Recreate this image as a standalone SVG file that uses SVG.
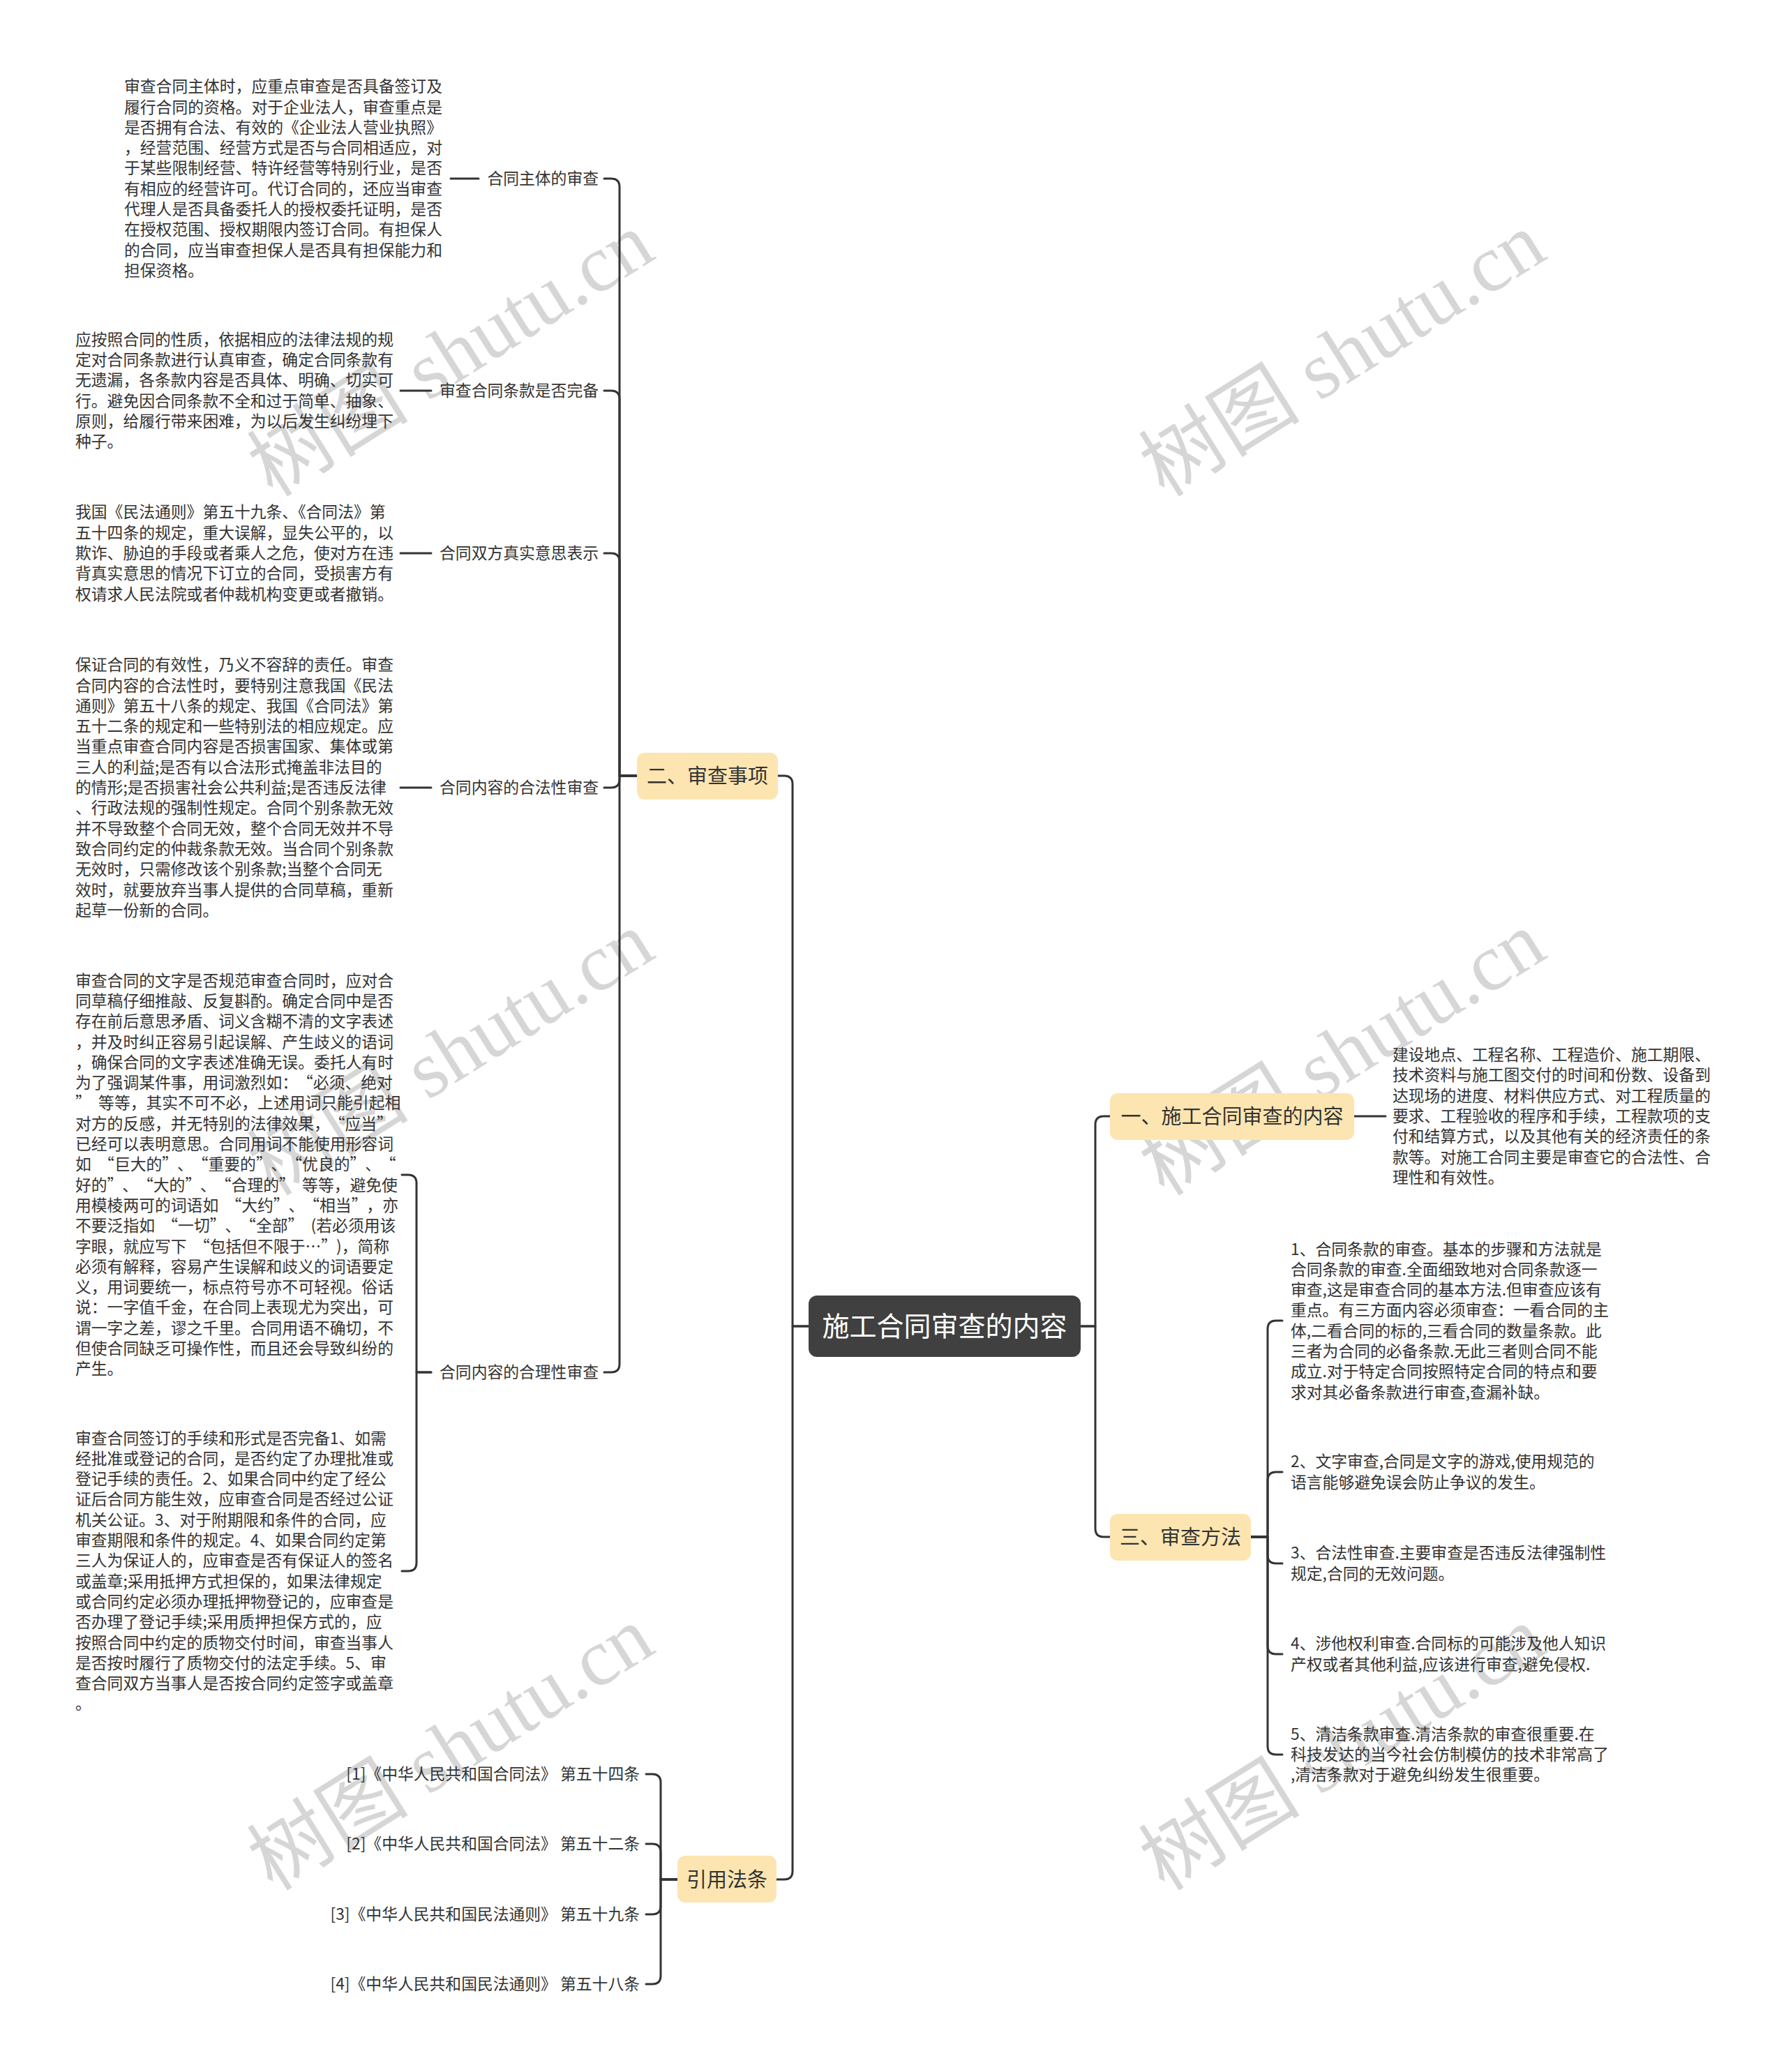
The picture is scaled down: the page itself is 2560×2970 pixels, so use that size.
<svg xmlns="http://www.w3.org/2000/svg" width="2560" height="2970" viewBox="0 0 2560 2970">
<style>
.bg{fill:#ffffff}
.wm{font-family:"Liberation Serif","Noto Sans CJK SC",serif;font-size:116px;fill:#000000;fill-opacity:0.16}
.t{font-family:"Noto Sans CJK SC","Noto Sans",sans-serif;font-size:22.8px;fill:#333333}
.q{letter-spacing:10.3px}
.lbl{font-family:"Noto Sans CJK SC","Noto Sans",sans-serif;font-size:22.8px;fill:#333333}
.sub{fill:#fce5b1}
.subt{font-family:"Noto Sans CJK SC","Noto Sans",sans-serif;font-size:29px;fill:#333333;text-anchor:middle}
.root{fill:#404040}
.roott{font-family:"Noto Sans CJK SC","Noto Sans",sans-serif;font-size:39px;fill:#ffffff;text-anchor:middle}
.c{fill:none;stroke:#333333;stroke-width:3;stroke-linecap:round;stroke-linejoin:round}
</style>
<rect class="bg" x="0" y="0" width="2560" height="2970"/>
<g id="watermarks">
<text class="wm" x="648" y="547" text-anchor="middle" transform="rotate(-32 648 511)">树图 shutu.cn</text>
<text class="wm" x="1926" y="547" text-anchor="middle" transform="rotate(-32 1926 511)">树图 shutu.cn</text>
<text class="wm" x="648" y="1549" text-anchor="middle" transform="rotate(-32 648 1513)">树图 shutu.cn</text>
<text class="wm" x="1926" y="1549" text-anchor="middle" transform="rotate(-32 1926 1513)">树图 shutu.cn</text>
<text class="wm" x="648" y="2545" text-anchor="middle" transform="rotate(-32 648 2509)">树图 shutu.cn</text>
<text class="wm" x="1926" y="2545" text-anchor="middle" transform="rotate(-32 1926 2509)">树图 shutu.cn</text>
</g>
<g id="connectors">
<path class="c" d="M1159 1901 H1136 V1124 Q1136 1112 1124 1112 H1115"/>
<path class="c" d="M1159 1901 H1136 V2682 Q1136 2694 1124 2694 H1113"/>
<path class="c" d="M1549 1901 H1570 V1612 Q1570 1600 1582 1600 H1591"/>
<path class="c" d="M1549 1901 H1570 V2191 Q1570 2203 1582 2203 H1591"/>
<path class="c" d="M913 1112 H888 V268 Q888 256 876 256 H866"/>
<path class="c" d="M913 1112 H888 V572 Q888 560 876 560 H866"/>
<path class="c" d="M913 1112 H888 V805 Q888 793 876 793 H866"/>
<path class="c" d="M913 1112 H888 V1117 Q888 1129 876 1129 H866"/>
<path class="c" d="M913 1112 H888 V1955 Q888 1967 876 1967 H866"/>
<path class="c" d="M686 256 H646"/>
<path class="c" d="M618 560 H574"/>
<path class="c" d="M618 793 H574"/>
<path class="c" d="M618 1129 H574"/>
<path class="c" d="M618 1967 H597 V1696 Q597 1684 585 1684 H576"/>
<path class="c" d="M618 1967 H597 V2240 Q597 2252 585 2252 H576"/>
<path class="c" d="M971 2694 H947 V2555 Q947 2543 935 2543 H926"/>
<path class="c" d="M971 2694 H947 V2655 Q947 2643 935 2643 H926"/>
<path class="c" d="M971 2694 H947 V2732 Q947 2744 935 2744 H926"/>
<path class="c" d="M971 2694 H947 V2832 Q947 2844 935 2844 H926"/>
<path class="c" d="M1941 1600 H1986"/>
<path class="c" d="M1793 2203 H1817 V1905 Q1817 1893 1829 1893 H1838"/>
<path class="c" d="M1793 2203 H1817 V2122 Q1817 2110 1829 2110 H1838"/>
<path class="c" d="M1793 2203 H1817 V2229 Q1817 2241 1829 2241 H1838"/>
<path class="c" d="M1793 2203 H1817 V2359 Q1817 2371 1829 2371 H1838"/>
<path class="c" d="M1793 2203 H1817 V2503 Q1817 2515 1829 2515 H1838"/>
</g>
<g id="root">
<rect class="root" x="1159" y="1857" width="390" height="88" rx="12"/>
<text class="roott" x="1354" y="1915">施工合同审查的内容</text>
</g>
<g id="branch2">
<rect class="sub" x="913" y="1079" width="202" height="67" rx="11"/>
<text class="subt" x="1014" y="1122.5">二、审查事项</text>
</g>
<g id="branch1">
<rect class="sub" x="1591" y="1567" width="350" height="67" rx="11"/>
<text class="subt" x="1766" y="1610.5">一、施工合同审查的内容</text>
</g>
<g id="branch3">
<rect class="sub" x="1591" y="2170" width="202" height="67" rx="11"/>
<text class="subt" x="1692" y="2213.5">三、审查方法</text>
</g>
<g id="branch4">
<rect class="sub" x="971" y="2660" width="142" height="67" rx="11"/>
<text class="subt" x="1042" y="2704.5">引用法条</text>
</g>
<g id="label-zhuti"><text class="lbl" x="858" y="264" text-anchor="end">合同主体的审查</text></g>
<g id="label-tiaokuan"><text class="lbl" x="858" y="568" text-anchor="end">审查合同条款是否完备</text></g>
<g id="label-yisi"><text class="lbl" x="858" y="801" text-anchor="end">合同双方真实意思表示</text></g>
<g id="label-hefa"><text class="lbl" x="858" y="1137" text-anchor="end">合同内容的合法性审查</text></g>
<g id="label-heli"><text class="lbl" x="858" y="1975" text-anchor="end">合同内容的合理性审查</text></g>
<g id="body-zhuti">
<text class="t" x="178" y="132.2"><tspan x="178" dy="0">审查合同主体时，应重点审查是否具备签订及</tspan><tspan x="178" dy="29.3">履行合同的资格。对于企业法人，审查重点是</tspan><tspan x="178" dy="29.3">是否拥有合法、有效的《企业法人营业执照》</tspan><tspan x="178" dy="29.3">，经营范围、经营方式是否与合同相适应，对</tspan><tspan x="178" dy="29.3">于某些限制经营、特许经营等特别行业，是否</tspan><tspan x="178" dy="29.3">有相应的经营许可。代订合同的，还应当审查</tspan><tspan x="178" dy="29.3">代理人是否具备委托人的授权委托证明，是否</tspan><tspan x="178" dy="29.3">在授权范围、授权期限内签订合同。有担保人</tspan><tspan x="178" dy="29.3">的合同，应当审查担保人是否具有担保能力和</tspan><tspan x="178" dy="29.3">担保资格。</tspan></text>
</g>
<g id="body-tiaokuan">
<text class="t" x="108" y="494.8"><tspan x="108" dy="0">应按照合同的性质，依据相应的法律法规的规</tspan><tspan x="108" dy="29.3">定对合同条款进行认真审查，确定合同条款有</tspan><tspan x="108" dy="29.3">无遗漏，各条款内容是否具体、明确、切实可</tspan><tspan x="108" dy="29.3">行。避免因合同条款不全和过于简单、抽象、</tspan><tspan x="108" dy="29.3">原则，给履行带来困难，为以后发生纠纷埋下</tspan><tspan x="108" dy="29.3">种子。</tspan></text>
</g>
<g id="body-yisi">
<text class="t" x="108" y="742.4"><tspan x="108" dy="0">我国《民法通则》第五十九条、《合同法》第</tspan><tspan x="108" dy="29.3">五十四条的规定，重大误解，显失公平的，以</tspan><tspan x="108" dy="29.3">欺诈、胁迫的手段或者乘人之危，使对方在违</tspan><tspan x="108" dy="29.3">背真实意思的情况下订立的合同，受损害方有</tspan><tspan x="108" dy="29.3">权请求人民法院或者仲裁机构变更或者撤销。</tspan></text>
</g>
<g id="body-hefa">
<text class="t" x="108" y="961.2"><tspan x="108" dy="0">保证合同的有效性，乃义不容辞的责任。审查</tspan><tspan x="108" dy="29.3">合同内容的合法性时，要特别注意我国《民法</tspan><tspan x="108" dy="29.3">通则》第五十八条的规定、我国《合同法》第</tspan><tspan x="108" dy="29.3">五十二条的规定和一些特别法的相应规定。应</tspan><tspan x="108" dy="29.3">当重点审查合同内容是否损害国家、集体或第</tspan><tspan x="108" dy="29.3">三人的利益;是否有以合法形式掩盖非法目的</tspan><tspan x="108" dy="29.3">的情形;是否损害社会公共利益;是否违反法律</tspan><tspan x="108" dy="29.3">、行政法规的强制性规定。合同个别条款无效</tspan><tspan x="108" dy="29.3">并不导致整个合同无效，整个合同无效并不导</tspan><tspan x="108" dy="29.3">致合同约定的仲裁条款无效。当合同个别条款</tspan><tspan x="108" dy="29.3">无效时，只需修改该个别条款;当整个合同无</tspan><tspan x="108" dy="29.3">效时，就要放弃当事人提供的合同草稿，重新</tspan><tspan x="108" dy="29.3">起草一份新的合同。</tspan></text>
</g>
<g id="body-heli-1">
<text class="t" x="108" y="1413.6"><tspan x="108" dy="0">审查合同的文字是否规范审查合同时，应对合</tspan><tspan x="108" dy="29.3">同草稿仔细推敲、反复斟酌。确定合同中是否</tspan><tspan x="108" dy="29.3">存在前后意思矛盾、词义含糊不清的文字表述</tspan><tspan x="108" dy="29.3">，并及时纠正容易引起误解、产生歧义的语词</tspan><tspan x="108" dy="29.3">，确保合同的文字表述准确无误。委托人有时</tspan><tspan x="108" dy="29.3">为了强调某件事，用词激烈如：<tspan dx="10.3">“</tspan>必须、绝对</tspan><tspan x="108" dy="29.3"><tspan class="q">”</tspan>等等，其实不可不必，上述用词只能引起相</tspan><tspan x="108" dy="29.3">对方的反感，并无特别的法律效果，<tspan dx="10.3">“</tspan>应当<tspan class="q">”</tspan></tspan><tspan x="108" dy="29.3">已经可以表明意思。合同用词不能使用形容词</tspan><tspan x="108" dy="29.3">如<tspan dx="10.3">“</tspan>巨大的<tspan class="q">”</tspan>、<tspan dx="10.3">“</tspan>重要的<tspan class="q">”</tspan>、<tspan dx="10.3">“</tspan>优良的<tspan class="q">”</tspan>、<tspan dx="10.3">“</tspan></tspan><tspan x="108" dy="29.3">好的<tspan class="q">”</tspan>、<tspan dx="10.3">“</tspan>大的<tspan class="q">”</tspan>、<tspan dx="10.3">“</tspan>合理的<tspan class="q">”</tspan>等等，避免使</tspan><tspan x="108" dy="29.3">用模棱两可的词语如<tspan dx="10.3">“</tspan>大约<tspan class="q">”</tspan>、<tspan dx="10.3">“</tspan>相当<tspan class="q">”</tspan>，亦</tspan><tspan x="108" dy="29.3">不要泛指如<tspan dx="10.3">“</tspan>一切<tspan class="q">”</tspan>、<tspan dx="10.3">“</tspan>全部<tspan class="q">”</tspan>(若必须用该</tspan><tspan x="108" dy="29.3">字眼，就应写下<tspan dx="10.3">“</tspan>包括但不限于…<tspan class="q">”</tspan>)，简称</tspan><tspan x="108" dy="29.3">必须有解释，容易产生误解和歧义的词语要定</tspan><tspan x="108" dy="29.3">义，用词要统一，标点符号亦不可轻视。俗话</tspan><tspan x="108" dy="29.3">说：一字值千金，在合同上表现尤为突出，可</tspan><tspan x="108" dy="29.3">谓一字之差，谬之千里。合同用语不确切，不</tspan><tspan x="108" dy="29.3">但使合同缺乏可操作性，而且还会导致纠纷的</tspan><tspan x="108" dy="29.3">产生。</tspan></text>
</g>
<g id="body-heli-2">
<text class="t" x="108" y="2069.5"><tspan x="108" dy="0">审查合同签订的手续和形式是否完备1、如需</tspan><tspan x="108" dy="29.3">经批准或登记的合同，是否约定了办理批准或</tspan><tspan x="108" dy="29.3">登记手续的责任。2、如果合同中约定了经公</tspan><tspan x="108" dy="29.3">证后合同方能生效，应审查合同是否经过公证</tspan><tspan x="108" dy="29.3">机关公证。3、对于附期限和条件的合同，应</tspan><tspan x="108" dy="29.3">审查期限和条件的规定。4、如果合同约定第</tspan><tspan x="108" dy="29.3">三人为保证人的，应审查是否有保证人的签名</tspan><tspan x="108" dy="29.3">或盖章;采用抵押方式担保的，如果法律规定</tspan><tspan x="108" dy="29.3">或合同约定必须办理抵押物登记的，应审查是</tspan><tspan x="108" dy="29.3">否办理了登记手续;采用质押担保方式的，应</tspan><tspan x="108" dy="29.3">按照合同中约定的质物交付时间，审查当事人</tspan><tspan x="108" dy="29.3">是否按时履行了质物交付的法定手续。5、审</tspan><tspan x="108" dy="29.3">查合同双方当事人是否按合同约定签字或盖章</tspan><tspan x="108" dy="29.3">。</tspan></text>
</g>
<g id="law-1"><text class="lbl" x="917" y="2551" text-anchor="end">[1]《中华人民共和国合同法》 第五十四条</text></g>
<g id="law-2"><text class="lbl" x="917" y="2651" text-anchor="end">[2]《中华人民共和国合同法》 第五十二条</text></g>
<g id="law-3"><text class="lbl" x="917" y="2752" text-anchor="end">[3]《中华人民共和国民法通则》 第五十九条</text></g>
<g id="law-4"><text class="lbl" x="917" y="2852" text-anchor="end">[4]《中华人民共和国民法通则》 第五十八条</text></g>
<g id="body-neirong">
<text class="t" x="1996" y="1520.1"><tspan x="1996" dy="0">建设地点、工程名称、工程造价、施工期限、</tspan><tspan x="1996" dy="29.3">技术资料与施工图交付的时间和份数、设备到</tspan><tspan x="1996" dy="29.3">达现场的进度、材料供应方式、对工程质量的</tspan><tspan x="1996" dy="29.3">要求、工程验收的程序和手续，工程款项的支</tspan><tspan x="1996" dy="29.3">付和结算方式，以及其他有关的经济责任的条</tspan><tspan x="1996" dy="29.3">款等。对施工合同主要是审查它的合法性、合</tspan><tspan x="1996" dy="29.3">理性和有效性。</tspan></text>
</g>
<g id="method-1">
<text class="t" x="1850" y="1798.5"><tspan x="1850" dy="0">1、合同条款的审查。基本的步骤和方法就是</tspan><tspan x="1850" dy="29.3">合同条款的审查.全面细致地对合同条款逐一</tspan><tspan x="1850" dy="29.3">审查,这是审查合同的基本方法.但审查应该有</tspan><tspan x="1850" dy="29.3">重点。有三方面内容必须审查：一看合同的主</tspan><tspan x="1850" dy="29.3">体,二看合同的标的,三看合同的数量条款。此</tspan><tspan x="1850" dy="29.3">三者为合同的必备条款.无此三者则合同不能</tspan><tspan x="1850" dy="29.3">成立.对于特定合同按照特定合同的特点和要</tspan><tspan x="1850" dy="29.3">求对其必备条款进行审查,查漏补缺。</tspan></text>
</g>
<g id="method-2">
<text class="t" x="1850" y="2103.4"><tspan x="1850" dy="0">2、文字审查,合同是文字的游戏,使用规范的</tspan><tspan x="1850" dy="29.3">语言能够避免误会防止争议的发生。</tspan></text>
</g>
<g id="method-3">
<text class="t" x="1850" y="2234.4"><tspan x="1850" dy="0">3、合法性审查.主要审查是否违反法律强制性</tspan><tspan x="1850" dy="29.3">规定,合同的无效问题。</tspan></text>
</g>
<g id="method-4">
<text class="t" x="1850" y="2364.4"><tspan x="1850" dy="0">4、涉他权利审查.合同标的可能涉及他人知识</tspan><tspan x="1850" dy="29.3">产权或者其他利益,应该进行审查,避免侵权.</tspan></text>
</g>
<g id="method-5">
<text class="t" x="1850" y="2493.7"><tspan x="1850" dy="0">5、清洁条款审查.清洁条款的审查很重要.在</tspan><tspan x="1850" dy="29.3">科技发达的当今社会仿制模仿的技术非常高了</tspan><tspan x="1850" dy="29.3">,清洁条款对于避免纠纷发生很重要。</tspan></text>
</g>
</svg>
